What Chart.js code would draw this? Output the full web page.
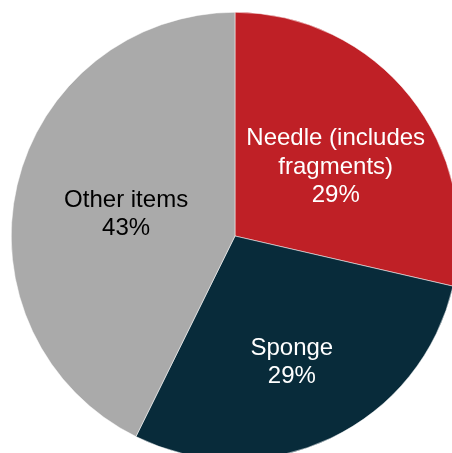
<!DOCTYPE html>
<html>
<head>
<meta charset="utf-8">
<script src="https://cdn.jsdelivr.net/npm/chart.js@4"></script>
<style>
  html, body { margin: 0; padding: 0; background: #ffffff; overflow: hidden; width: 452px; height: 453px; }
  #wrap { position: absolute; left: 0; top: 0; width: 470px; height: 472px; }
</style>
</head>
<body>
<div id="wrap"><canvas id="c" width="470" height="472"></canvas></div>
<script>
const categories = [["Needle (includes", "fragments)"], ["Sponge"], ["Other items"]];
const values = [28.6, 28.7, 42.7];
const percentLabels = ["29%", "29%", "43%"];
const colors = ["#BF2026", "#082B3A", "#AAAAAA"];
const labelColors = ["#ffffff", "#ffffff", "#000000"];
const labelRadiusFrac = [0.545, 0.62, 0.496];
const labelAngleShiftDeg = [4.2, 1.2, -2.0];

const labelPlugin = {
  id: 'sliceLabels',
  afterDatasetsDraw(chart) {
    const ctx = chart.ctx;
    const meta = chart.getDatasetMeta(0);
    ctx.save();
    ctx.font = '24px "Liberation Sans", Arial, sans-serif';
    ctx.textAlign = 'center';
    ctx.textBaseline = 'middle';
    const lh = 28.5;
    meta.data.forEach((arc, i) => {
      const p = arc.getProps(['x', 'y', 'startAngle', 'endAngle', 'outerRadius'], true);
      const mid = (p.startAngle + p.endAngle) / 2 + labelAngleShiftDeg[i] * Math.PI / 180;
      const r = p.outerRadius * labelRadiusFrac[i];
      const cx = p.x + Math.cos(mid) * r;
      const cy = p.y + Math.sin(mid) * r;
      const lines = categories[i].concat([percentLabels[i]]);
      const y0 = cy - (lines.length - 1) * lh / 2;
      ctx.fillStyle = labelColors[i];
      lines.forEach((t, k) => ctx.fillText(t, cx, y0 + k * lh));
    });
    ctx.restore();
  }
};

new Chart(document.getElementById('c'), {
  type: 'pie',
  data: {
    labels: categories.map(c => c.join(' ')),
    datasets: [{
      data: values,
      backgroundColor: colors,
      borderColor: '#ffffff',
      borderWidth: 0.5
    }]
  },
  options: {
    responsive: false,
    animation: false,
    layout: { padding: 11 },
    plugins: {
      legend: { display: false },
      tooltip: { enabled: false },
      title: { display: false }
    }
  },
  plugins: [labelPlugin]
});
</script>
</body>
</html>
